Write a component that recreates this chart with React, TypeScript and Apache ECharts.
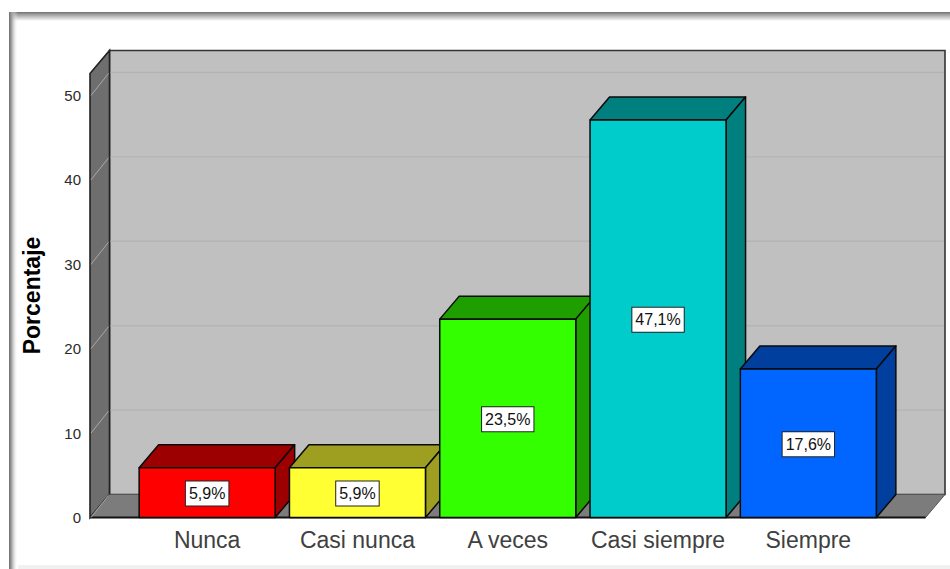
import React, { useEffect, useRef } from "react";
import * as echarts from "echarts";

const categories = ["Nunca", "Casi nunca", "A veces", "Casi siempre", "Siempre"];
const values = [5.9, 5.9, 23.5, 47.1, 17.6];
const valueLabels = ["5,9%", "5,9%", "23,5%", "47,1%", "17,6%"];
const gridValues = [0, 10, 20, 30, 40, 50];
const frontColors = ["#ff0000", "#ffff33", "#33ff00", "#00cccc", "#0066ff"];
const topColors = ["#9c0000", "#9e9e20", "#1f9e00", "#007f7f", "#003f9e"];

const DX = 19.5;
const DY = 23;
const SIDE = 42;

function renderWalls(params: any) {
  const c = params.coordSys;
  const l = c.x - SIDE;
  const r = c.x + c.width + SIDE;
  const t = c.y;
  const b = c.y + c.height;
  const edge = { stroke: "#222222", lineWidth: 1.6 };
  return {
    type: "group",
    children: [
      { type: "rect", shape: { x: l + DX, y: t - DY, width: r - l, height: b - t }, style: { fill: "#c0c0c0", stroke: "#333333", lineWidth: 1.6 } },
      { type: "polygon", shape: { points: [[l, t], [l + DX, t - DY], [l + DX, b - DY], [l, b]] }, style: { fill: "#6e6e6e", ...edge } },
      { type: "polygon", shape: { points: [[l, b], [l + DX, b - DY], [r + DX, b - DY], [r, b]] }, style: { fill: "#7c7c7c", stroke: "#555555", lineWidth: 1 } },
      { type: "line", shape: { x1: l, y1: b, x2: r, y2: b }, style: { stroke: "#111111", lineWidth: 2 } },
    ],
  };
}

function renderGridLine(params: any, api: any) {
  const c = params.coordSys;
  const l = c.x - SIDE;
  const r = c.x + c.width + SIDE;
  const y = api.coord([0, api.value(1)])[1];
  const children: any[] = [
    { type: "line", shape: { x1: l + 1, y1: y, x2: l + DX - 1, y2: y - DY + 1 }, style: { stroke: "#a8a8a8", lineWidth: 1 } },
  ];
  if (api.value(1) > 0) {
    children.push({ type: "line", shape: { x1: l + DX + 1, y1: y - DY, x2: r + DX - 1, y2: y - DY }, style: { stroke: "#b4b4b4", lineWidth: 1.4 } });
  }
  return { type: "group", children };
}

function renderBar(params: any, api: any) {
  const i = api.value(0);
  const [cx, y] = api.coord([i, api.value(1)]);
  const [, y0] = api.coord([i, 0]);
  const w = api.size([1, 0])[0] * 0.905;
  const x = cx - w / 2;
  const border = { stroke: "#0a0a0a", lineWidth: 1.5, lineJoin: "round" };
  return {
    type: "group",
    children: [
      { type: "polygon", shape: { points: [[x, y], [x + DX, y - DY], [x + w + DX, y - DY], [x + w, y]] }, style: { fill: topColors[i], ...border } },
      { type: "polygon", shape: { points: [[x + w, y], [x + w + DX, y - DY], [x + w + DX, y0 - DY], [x + w, y0]] }, style: { fill: topColors[i], ...border } },
      { type: "rect", shape: { x, y, width: w, height: y0 - y }, style: { fill: frontColors[i], ...border } },
      {
        type: "text",
        z2: 10,
        style: {
          x: cx,
          y: (y + y0) / 2 + 1,
          text: valueLabels[i],
          align: "center",
          verticalAlign: "middle",
          fontFamily: "Liberation Sans",
          fontSize: 16,
          fill: "#111111",
          backgroundColor: "#ffffff",
          borderColor: "#222222",
          borderWidth: 1,
          padding: [5, 3, 3, 3],
        },
      },
    ],
  };
}

export default function App() {
  const ref = useRef<HTMLDivElement>(null);
  useEffect(() => {
    const chart = echarts.init(ref.current!, null, { renderer: "svg" });
    chart.setOption({
      animation: false,
      backgroundColor: "#ffffff",
      textStyle: { fontFamily: "Liberation Sans" },
      grid: { left: 132, top: 73.5, width: 751.5, height: 444 },
      xAxis: {
        type: "category",
        data: categories,
        axisLine: { show: false },
        axisTick: { show: false },
        axisLabel: { fontSize: 23, color: "#404040", margin: 11, fontFamily: "Liberation Sans", interval: 0 },
      },
      yAxis: {
        type: "value",
        min: 0,
        max: 52.6,
        interval: 10,
        offset: SIDE,
        name: "Porcentaje",
        nameLocation: "middle",
        nameGap: 47,
        nameTextStyle: { fontSize: 23, fontWeight: "bold", color: "#000000", fontFamily: "Liberation Sans" },
        axisLine: { show: false },
        axisTick: { show: false },
        splitLine: { show: false },
        axisLabel: { fontSize: 15, color: "#2a2a2a", margin: 9, padding: [5, 0, 0, 0], fontFamily: "Liberation Sans", showMaxLabel: false },
      },
      graphic: [
        { type: "rect", z: 0, shape: { x: 10, y: 12, width: 940, height: 9 }, style: { fill: new echarts.graphic.LinearGradient(0, 0, 0, 1, [{ offset: 0, color: "#6e6e6e" }, { offset: 0.25, color: "#9a9a9a" }, { offset: 1, color: "#ffffff" }]) } },
        { type: "rect", z: 0, shape: { x: 9, y: 12, width: 9, height: 557 }, style: { fill: new echarts.graphic.LinearGradient(0, 0, 1, 0, [{ offset: 0, color: "#6e6e6e" }, { offset: 0.25, color: "#9a9a9a" }, { offset: 1, color: "rgba(255,255,255,0)" }]) } },
        { type: "rect", z: 0, shape: { x: 18, y: 565, width: 932, height: 4 }, style: { fill: "#f1f1f1" } },
      ],
      series: [
        { type: "custom", z: 1, silent: true, data: [[0, 0]], renderItem: renderWalls },
        { type: "custom", z: 2, silent: true, data: gridValues.map((v) => [0, v]), renderItem: renderGridLine },
        { type: "custom", z: 3, silent: true, data: values.map((v, i) => [i, v]), encode: { x: 0, y: 1 }, renderItem: renderBar },
      ],
    });
    return () => chart.dispose();
  }, []);
  return <div ref={ref} style={{ position: "absolute", left: 0, top: 0, width: 950, height: 569 }} />;
}
